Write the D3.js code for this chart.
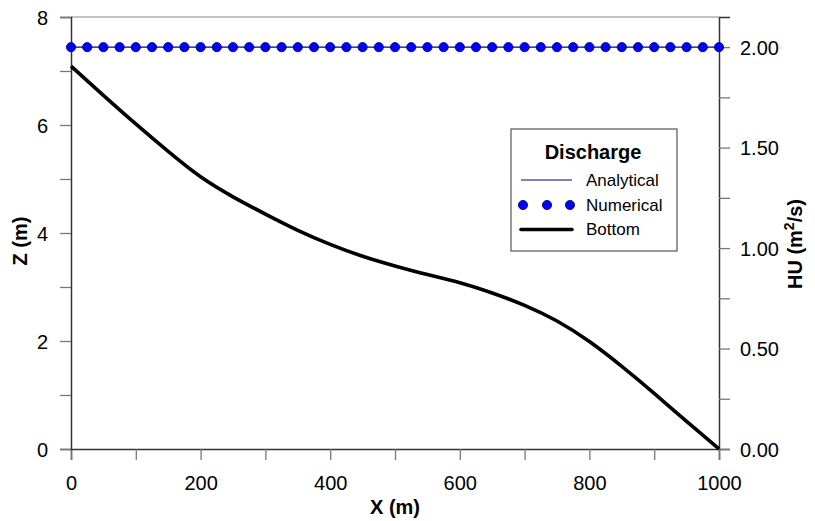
<!DOCTYPE html>
<html>
<head>
<meta charset="utf-8">
<script src="https://cdn.jsdelivr.net/npm/d3@7"></script>
<style>
  html, body { margin: 0; padding: 0; background: #fff; }
  svg { display: block; font-family: Arial, "Liberation Sans", sans-serif; }
</style>
</head>
<body>
<svg id="chart" width="815" height="521"></svg>
<script>
// ---- Data ----
const bottomX = [0, 50, 100, 150, 200, 250, 300, 350, 400, 450, 500, 550, 600, 650, 700, 750, 800, 850, 900, 950, 1000];
const bottomZ = [7.09, 6.55, 6.02, 5.51, 5.04, 4.67, 4.35, 4.05, 3.79, 3.57, 3.39, 3.23, 3.08, 2.89, 2.66, 2.37, 1.99, 1.53, 1.03, 0.51, 0.00];
const analyticalX = [0, 1000];
const analyticalHU = [2.0, 2.0];
const numericalX = [0, 25, 50, 75, 100, 125, 150, 175, 200, 225, 250, 275, 300, 325, 350, 375, 400, 425, 450, 475, 500,
                    525, 550, 575, 600, 625, 650, 675, 700, 725, 750, 775, 800, 825, 850, 875, 900, 925, 950, 975, 1000];
const numericalHU = [2.0, 2.0, 2.0, 2.0, 2.0, 2.0, 2.0, 2.0, 2.0, 2.0, 2.0, 2.0, 2.0, 2.0, 2.0, 2.0, 2.0, 2.0, 2.0, 2.0, 2.0,
                     2.0, 2.0, 2.0, 2.0, 2.0, 2.0, 2.0, 2.0, 2.0, 2.0, 2.0, 2.0, 2.0, 2.0, 2.0, 2.0, 2.0, 2.0, 2.0, 2.0];
const xTickLabels = [0, 200, 400, 600, 800, 1000];
const zTickLabels = [0, 2, 4, 6, 8];
const huTickLabels = [0, 0.5, 1.0, 1.5, 2.0];
const legendTitle = "Discharge";
const legendLabels = ["Analytical", "Numerical", "Bottom"];

// ---- Layout ----
const L = 71, R = 719, T = 17, B = 449;
const svg = d3.select("#chart");

const x = d3.scaleLinear().domain([0, 1000]).range([L, R]);
const yZ = d3.scaleLinear().domain([0, 8]).range([B, T]);
const yHU = d3.scaleLinear().domain([0, 2.15]).range([B, T]);

const tickColor = "#777";
const axisColor = "#333";

// Frame: top
svg.append("line").attr("x1", L).attr("x2", R).attr("y1", T).attr("y2", T)
  .attr("stroke", "#888").attr("stroke-width", 1.2);

// X axis
const xAxis = d3.axisBottom(x).tickValues(d3.range(0, 1001, 100)).tickSize(11)
  .tickFormat(d => xTickLabels.includes(d) ? d : "");
const gx = svg.append("g").attr("transform", `translate(0,${B})`).call(xAxis);
gx.select(".domain").attr("stroke", axisColor).attr("stroke-width", 1.5);
gx.selectAll(".tick line").attr("stroke", tickColor).attr("stroke-width", 1.3);
gx.selectAll(".tick text").attr("fill", "#000").attr("font-size", 20)
  .attr("font-family", "Arial, 'Liberation Sans', sans-serif").attr("dy", 0).attr("y", 41);

// Left axis
const zAxis = d3.axisLeft(yZ).tickValues(d3.range(0, 9, 1)).tickSize(11)
  .tickFormat(d => zTickLabels.includes(d) ? d : "");
const gz = svg.append("g").attr("transform", `translate(${L},0)`).call(zAxis);
gz.select(".domain").attr("stroke", axisColor).attr("stroke-width", 1.5);
gz.selectAll(".tick line").attr("stroke", tickColor).attr("stroke-width", 1.3);
gz.selectAll(".tick text").attr("fill", "#000").attr("font-size", 20)
  .attr("font-family", "Arial, 'Liberation Sans', sans-serif").attr("x", -23).attr("dy", "0.35em");

// Right axis
const huAxis = d3.axisRight(yHU).tickValues(d3.range(0, 2.01, 0.25)).tickSize(11)
  .tickFormat(d => huTickLabels.some(v => Math.abs(v - d) < 1e-9) ? d3.format(".2f")(d) : "");
const ghu = svg.append("g").attr("transform", `translate(${R},0)`).call(huAxis);
ghu.select(".domain").attr("stroke", axisColor).attr("stroke-width", 1.5);
ghu.selectAll(".tick line").attr("stroke", tickColor).attr("stroke-width", 1.3);
ghu.selectAll(".tick text").attr("fill", "#000").attr("font-size", 20)
  .attr("font-family", "Arial, 'Liberation Sans', sans-serif").attr("x", 21).attr("dy", "0.35em");

// Axis titles
svg.append("text").attr("x", 395).attr("y", 514).attr("text-anchor", "middle")
  .attr("font-size", 20).attr("font-weight", "bold").text("X (m)");
svg.append("text").attr("transform", "translate(27,241) rotate(-90)").attr("text-anchor", "middle")
  .attr("font-size", 20).attr("font-weight", "bold").text("Z (m)");
const huT = svg.append("text").attr("transform", "translate(802,244) rotate(-90)").attr("text-anchor", "middle")
  .attr("font-size", 20).attr("font-weight", "bold");
huT.append("tspan").text("HU (m");
huT.append("tspan").attr("font-size", 14).attr("dy", -8).text("2");
huT.append("tspan").attr("dy", 8).text("/s)");

// Bottom curve
const bottomData = bottomX.map((d, i) => [d, bottomZ[i]]);
svg.append("path").datum(bottomData)
  .attr("fill", "none").attr("stroke", "#000").attr("stroke-width", 3.6)
  .attr("stroke-linejoin", "round")
  .attr("d", d3.line().x(d => x(d[0])).y(d => yZ(d[1])).curve(d3.curveNatural));

// Analytical line
const anData = analyticalX.map((d, i) => [d, analyticalHU[i]]);
svg.append("path").datum(anData)
  .attr("fill", "none").attr("stroke", "#000080").attr("stroke-width", 1.2)
  .attr("d", d3.line().x(d => x(d[0])).y(d => yHU(d[1])));

// Numerical points
const numData = numericalX.map((d, i) => [d, numericalHU[i]]);
svg.append("g").selectAll("circle").data(numData).join("circle")
  .attr("cx", d => x(d[0])).attr("cy", d => yHU(d[1])).attr("r", 4.6)
  .attr("fill", "#0000ff").attr("stroke", "#00005a").attr("stroke-width", 0.8);

// Legend
const lg = svg.append("g");
lg.append("rect").attr("x", 511).attr("y", 129).attr("width", 166).attr("height", 122)
  .attr("fill", "#fff").attr("stroke", "#555").attr("stroke-width", 1.2);
lg.append("text").attr("x", 593).attr("y", 159).attr("text-anchor", "middle")
  .attr("font-size", 20).attr("font-weight", "bold").text(legendTitle);
lg.append("line").attr("x1", 521).attr("x2", 572).attr("y1", 180).attr("y2", 180)
  .attr("stroke", "#000080").attr("stroke-width", 1.2);
[523, 547, 570].forEach(cx => lg.append("circle").attr("cx", cx).attr("cy", 205).attr("r", 4.6)
  .attr("fill", "#0000ff").attr("stroke", "#00005a").attr("stroke-width", 0.8));
lg.append("line").attr("x1", 521).attr("x2", 572).attr("y1", 229.5).attr("y2", 229.5)
  .attr("stroke", "#000").attr("stroke-width", 3.6).attr("stroke-linecap", "round");
const ly = [186, 211, 235];
legendLabels.forEach((t, i) => lg.append("text").attr("x", 586).attr("y", ly[i])
  .attr("font-size", 17).text(t));
</script>
</body>
</html>
